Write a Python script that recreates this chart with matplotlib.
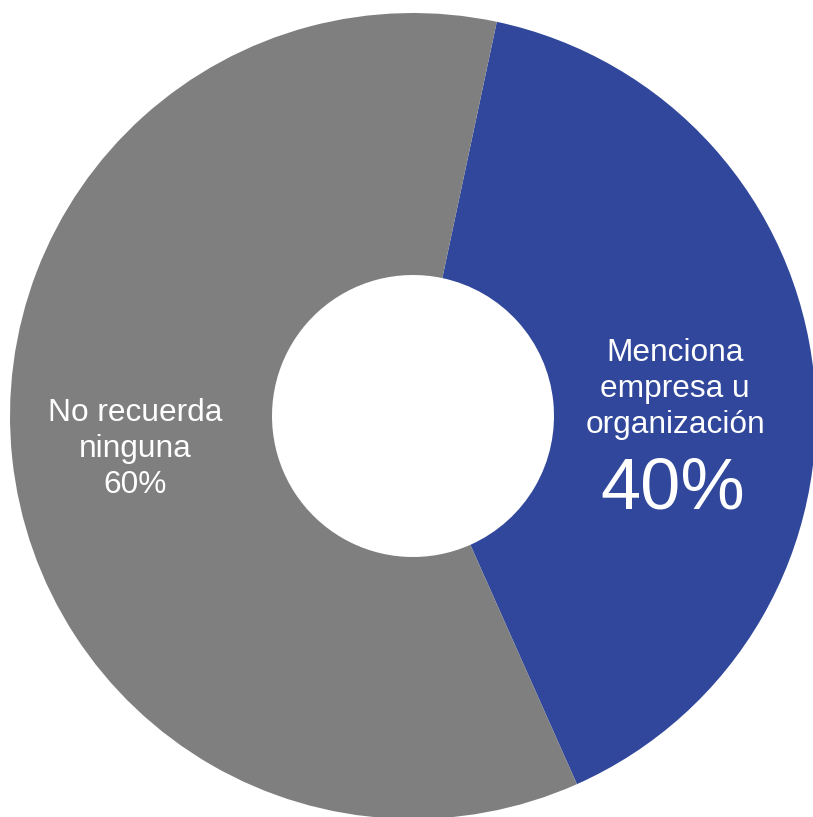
import matplotlib
matplotlib.use("Agg")
import matplotlib.pyplot as plt

labels = ["Menciona empresa u organización", "No recuerda ninguna"]
values = [40, 60]
colors = ["#30479B", "#7F7F7F"]

plt.rcParams['font.family'] = ['Liberation Sans', 'DejaVu Sans']

W, H = 813, 817
fig = plt.figure(figsize=(W / 100, H / 100), dpi=100)
ax = fig.add_axes([0, 0, 1, 1])

R_PX = 403.0
CX, CY = 413.0, 416.0

ax.pie(values, colors=colors, startangle=78, counterclock=False, radius=1.0,
       wedgeprops=dict(width=1 - 141.0 / R_PX, edgecolor='none', linewidth=0))

ax.set_aspect('auto')
ax.set_xlim(-CX / R_PX, (W - CX) / R_PX)
ax.set_ylim(-(H - CY) / R_PX, CY / R_PX)
ax.axis('off')


def d(px, py):
    return (px - CX) / R_PX, (CY - py) / R_PX


x, y = d(675, 389)
ax.text(x, y, "Menciona\nempresa u\norganización", color='white', fontsize=22.8,
        ha='center', va='center', linespacing=1.26)
x, y = d(673, 490)
ax.text(x, y, f"{values[0]}%", color='white', fontsize=52, ha='center', va='center')
x, y = d(135, 449)
ax.text(x, y, f"No recuerda\nninguna\n{values[1]}%", color='white', fontsize=22.8,
        ha='center', va='center', linespacing=1.26)

fig.savefig("out.png", dpi=100, facecolor='white')
